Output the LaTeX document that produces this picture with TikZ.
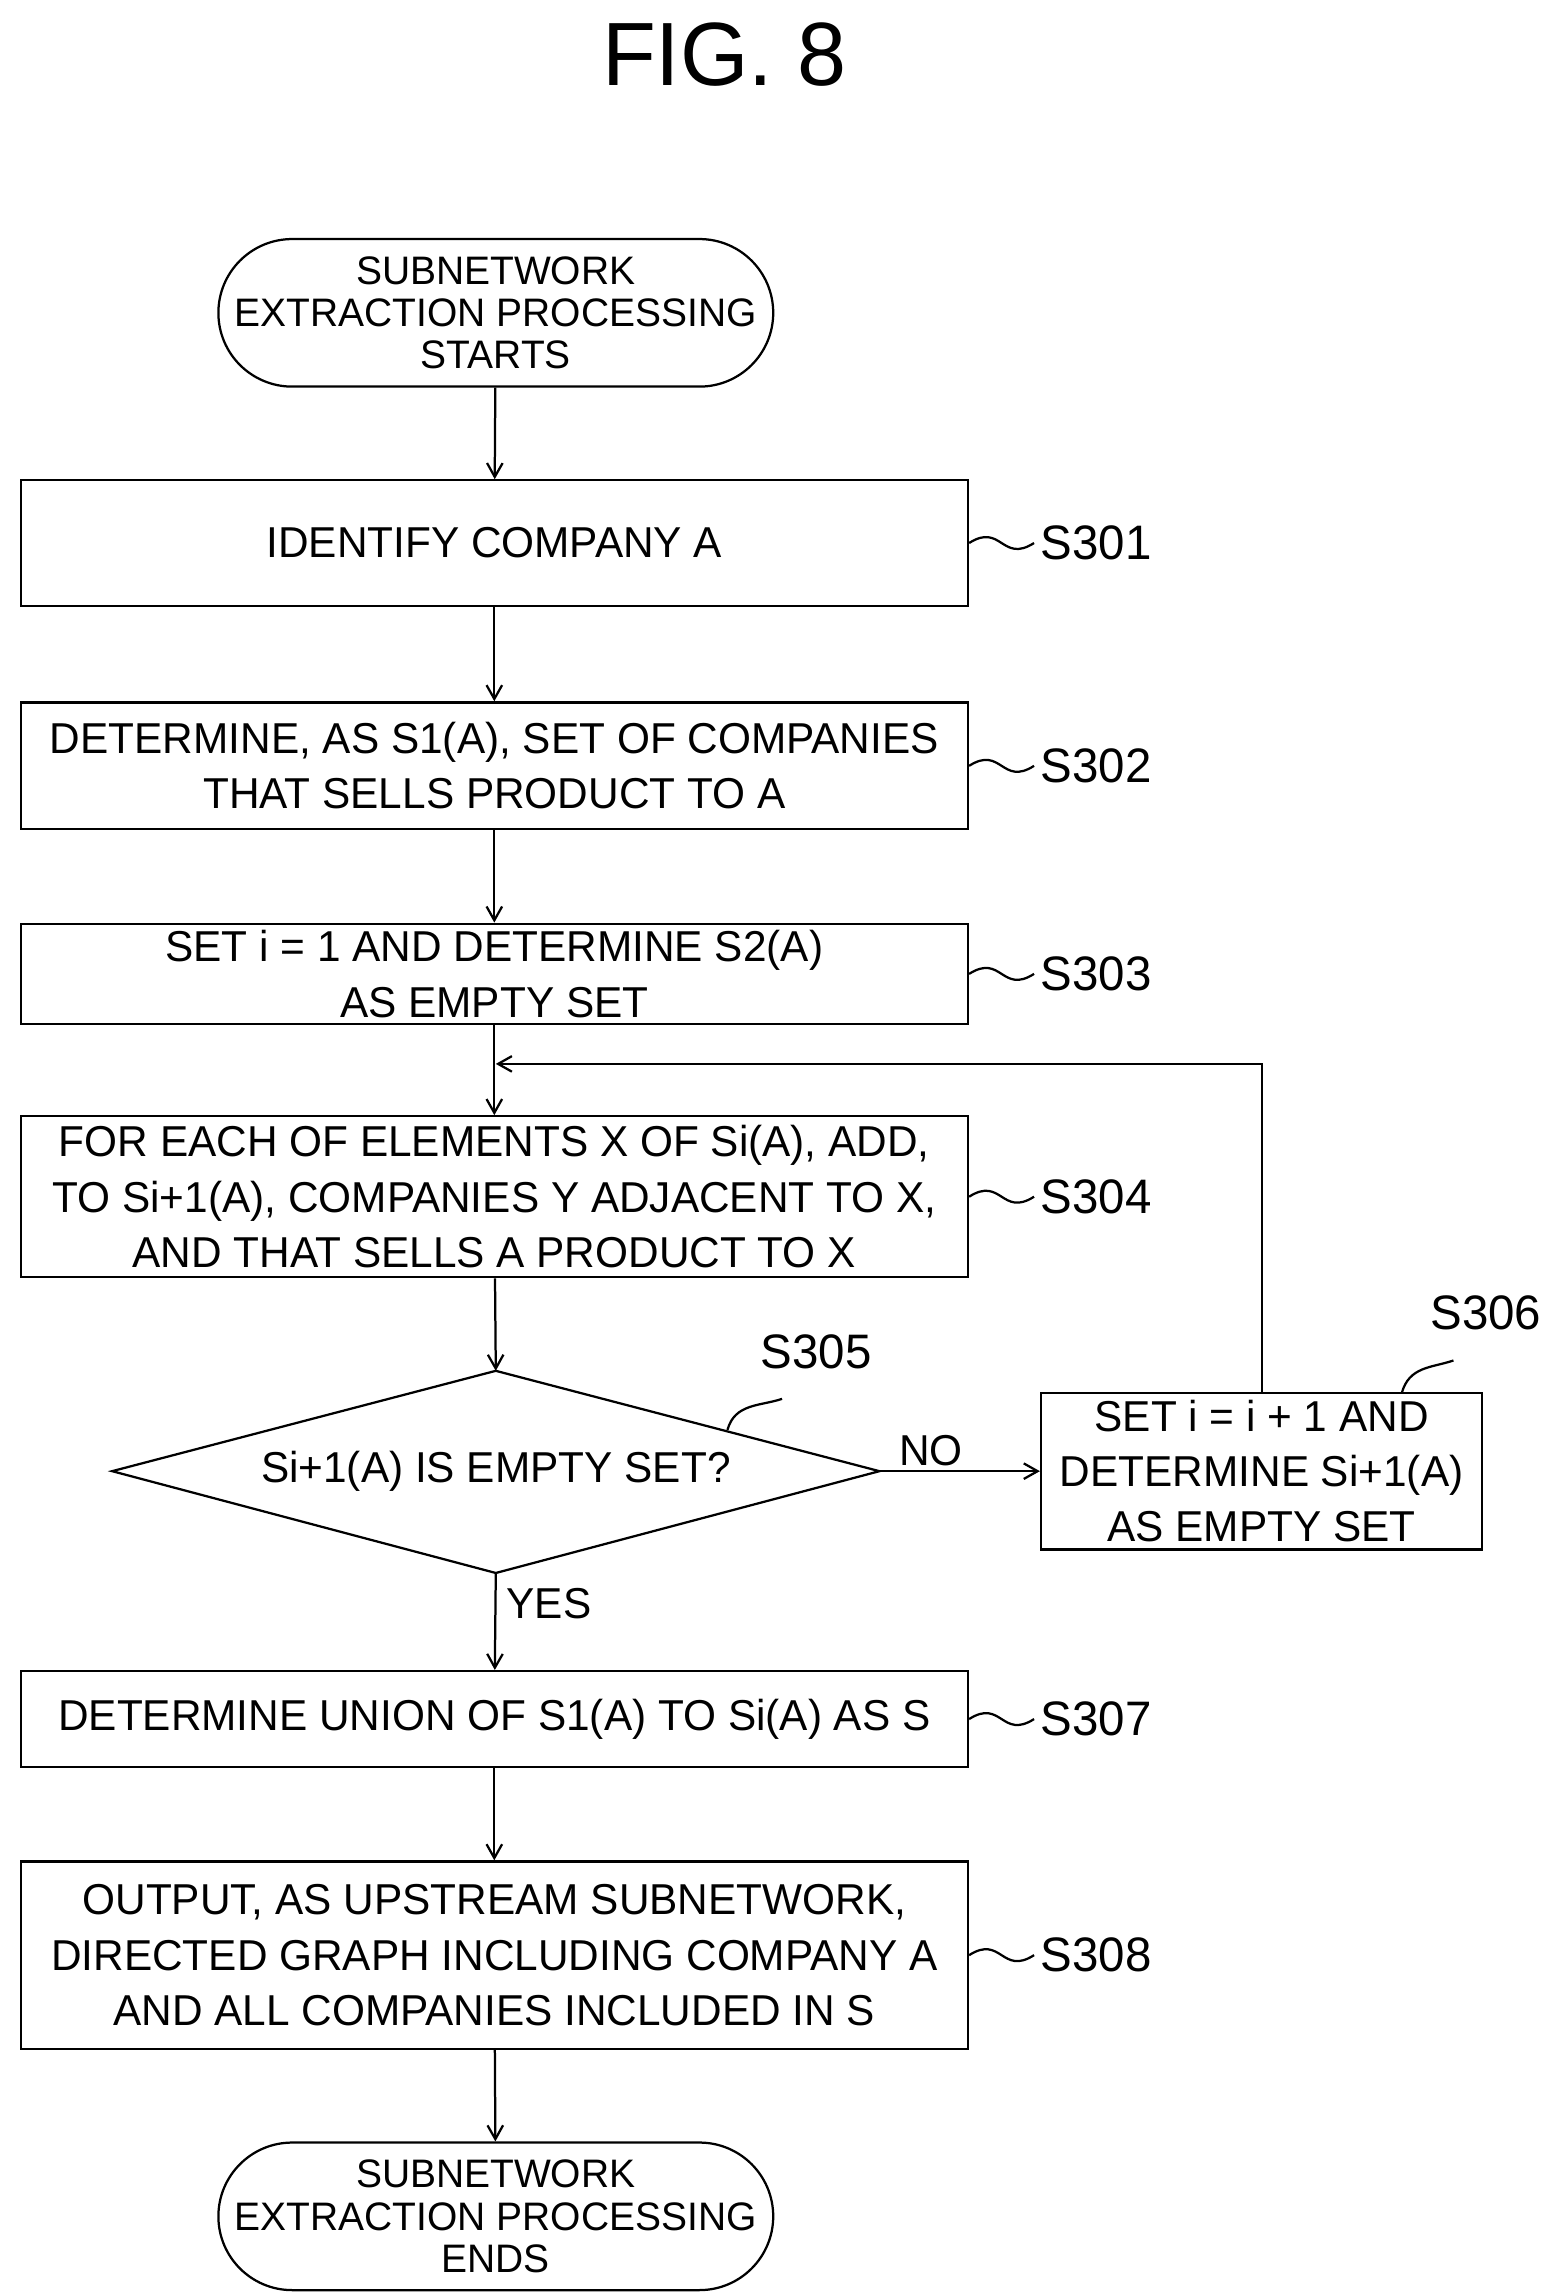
\documentclass[tikz,border=0pt]{standalone}
\usepackage{fontspec}
\setmainfont{Liberation Sans}[FakeStretch=0.98]
\usetikzlibrary{arrows.meta}
\begin{document}
\begin{tikzpicture}[x=0.03cm,y=-0.03cm,line width=1.3pt,
  every node/.style={font=\fontsize{25}{32}\selectfont},
  box/.style={draw,minimum width=19.26cm,align=center,inner sep=0pt},
  term/.style={draw,minimum width=11.28cm,minimum height=3cm,inner sep=0pt,rounded corners=1.5cm,align=center,font=\fontsize{23}{24.5}\selectfont},
  arr/.style={-{Straight Barb[length=8pt,width=9pt]}},
  lab/.style={font=\fontsize{28}{32}\selectfont,anchor=west}]
\useasboundingbox (0,0) rectangle (1050,1556);
\node[font=\fontsize{52}{60}\selectfont] (title) at (491,37) {FIG. 8};
\node[term] (start) at (336,212) {SUBNETWORK\\EXTRACTION PROCESSING\\STARTS};
\node[box,minimum height=2.55cm] (s301) at (335,368) {IDENTIFY COMPANY A};
\node[box,minimum height=2.58cm] (s302) at (335,519) {DETERMINE, AS S1(A), SET OF COMPANIES\\THAT SELLS PRODUCT TO A};
\node[box,minimum height=2.04cm] (s303) at (335,660) {SET i = 1 AND DETERMINE S2(A)\\AS EMPTY SET};
\node[box,minimum height=3.27cm] (s304) at (335,811) {FOR EACH OF ELEMENTS X OF Si(A), ADD,\\TO Si+1(A), COMPANIES Y ADJACENT TO X,\\AND THAT SELLS A PRODUCT TO X};
\coordinate (dt) at (336,929); \coordinate (db) at (336,1066);
\coordinate (dl) at (76,997); \coordinate (dr) at (596,997);
\draw (dt) -- (dr) -- (db) -- (dl) -- cycle;
\node (d) at (336,997) {Si+1(A) IS EMPTY SET?};
\node[draw,minimum width=8.97cm,minimum height=3.18cm,align=center,inner sep=0pt] (s306) at (855,997) {SET i = i + 1 AND\\DETERMINE Si+1(A)\\AS EMPTY SET};
\node[box,minimum height=1.95cm] (s307) at (335,1165) {DETERMINE UNION OF S1(A) TO Si(A) AS S};
\node[box,minimum height=3.81cm] (s308) at (335,1325) {OUTPUT, AS UPSTREAM SUBNETWORK,\\DIRECTED GRAPH INCLUDING COMPANY A\\AND ALL COMPANIES INCLUDED IN S};
\node[term] (end) at (336,1502) {SUBNETWORK\\EXTRACTION PROCESSING\\ENDS};
\draw[arr] (start) -- (s301);
\draw[arr] (s301) -- (s302);
\draw[arr] (s302) -- (s303);
\coordinate (j) at (336,721);
\draw[arr] (s303) -- (s304);
\draw[arr] (s304) -- (dt);
\draw[arr] (dr) -- (s306.west);
\draw[arr] (s306.north) |- (j);
\draw[arr] (db) -- (s307);
\draw[arr] (s307) -- (s308);
\draw[arr] (s308) -- (end);
\node (no) at (631,983) {NO};
\node (yes) at (372,1087) {YES};
\foreach \n/\s in {s301/S301,s302/S302,s303/S303,s304/S304,s307/S307,s308/S308}{
  \draw (\n.east) .. controls +(22,-14) and +(-22,14) .. ++(44,0) coordinate (c\n);
  \node[lab] (l\n) at (c\n) {\s};}
\coordinate (a305) at (493,969); \coordinate (b305) at (530,948);
\draw (a305) .. controls +(5,-18) and +(-15,5) .. (b305);
\node[font=\fontsize{28}{32}\selectfont] (l305) at (553,916) {S305};
\coordinate (a306) at (950,944); \coordinate (b306) at (985,922);
\draw (a306) .. controls +(5,-18) and +(-15,5) .. (b306);
\node[font=\fontsize{28}{32}\selectfont] (l306) at (1007,890) {S306};
\end{tikzpicture}
\end{document}
